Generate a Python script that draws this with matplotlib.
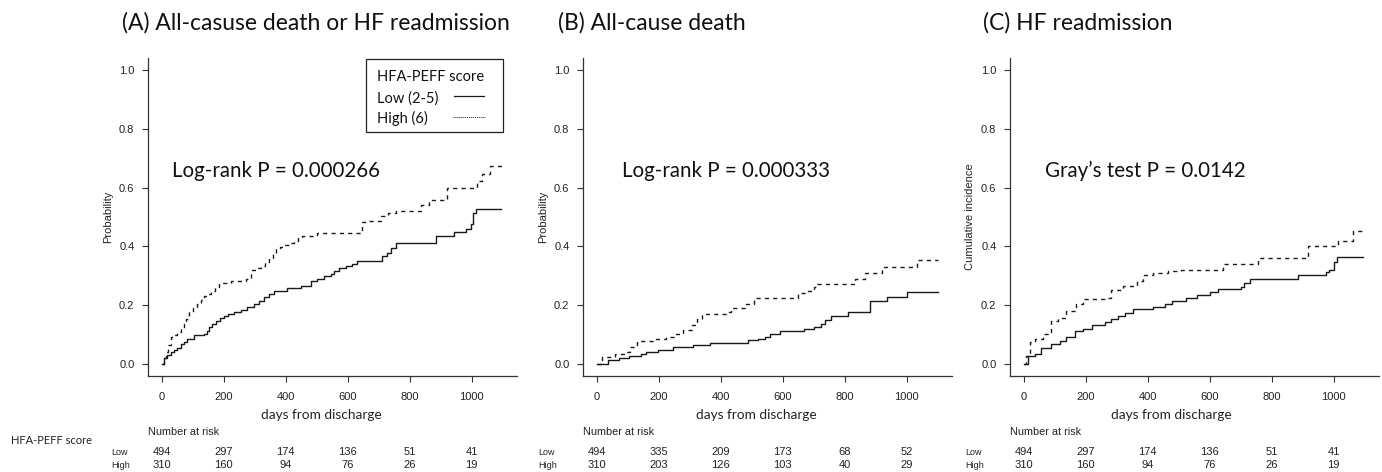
import matplotlib
matplotlib.use("Agg")
import matplotlib.pyplot as plt
from matplotlib.patches import Rectangle

# step curves (time in days, cumulative probability)
a_low_t = [0, 8, 18, 30, 40, 50, 61, 72, 83, 104, 137, 145, 153, 163, 174, 188, 201, 215, 233, 255, 276, 298, 315,
           330, 345, 362, 405, 448, 481, 500, 524, 545, 556, 572, 593, 615, 631, 712, 728, 739, 755, 884, 943, 981,
           997, 1005, 1015, 1096]
a_low_p = [0, .02, .03, .04, .047, .055, .067, .075, .086, .098, .103, .113, .126, .138, .148, .158, .165, .17, .176,
           .185, .193, .204, .215, .227, .238, .249, .258, .266, .283, .29, .30, .305, .315, .326, .334, .342, .349,
           .368, .379, .394, .413, .434, .449, .46, .475, .513, .527, .527]
a_high_t = [0, 6, 13, 21, 29, 40, 51, 62, 72, 80, 88, 100, 115, 126, 137, 148, 158, 172, 185, 223, 271, 287, 305,
            319, 333, 346, 358, 368, 382, 395, 410, 427, 441, 454, 502, 647, 668, 706, 730, 755, 835, 862, 919, 1018,
            1034, 1059, 1104]
a_high_p = [0, .02, .041, .065, .092, .1, .109, .122, .137, .155, .176, .19, .204, .218, .232, .24, .249, .263, .277,
            .283, .288, .319, .326, .333, .347, .361, .375, .39, .397, .404, .412, .42, .427, .434, .445, .483, .488,
            .502, .512, .522, .541, .558, .599, .622, .645, .673, .673]

b_low_t = [0, 38, 71, 104, 142, 159, 197, 246, 279, 312, 367, 487, 520, 542, 560, 591, 668, 700, 722, 735, 755, 810,
           880, 935, 1002, 1100]
b_low_p = [0, .014, .02, .028, .035, .043, .05, .057, .059, .065, .073, .082, .086, .093, .104, .112, .121, .127,
           .138, .149, .164, .176, .214, .23, .245, .245]
b_high_t = [0, 16, 60, 93, 109, 131, 181, 224, 252, 279, 307, 323, 340, 416, 432, 477, 509, 648, 676, 701, 711, 834,
            866, 920, 1033, 1100]
b_high_p = [0, .024, .035, .043, .059, .08, .084, .091, .104, .116, .132, .152, .172, .177, .192, .203, .224, .243,
            .248, .262, .271, .29, .31, .331, .355, .355]

c_low_t = [0, 14, 36, 57, 89, 116, 138, 165, 192, 219, 262, 283, 305, 326, 353, 418, 455, 477, 525, 558, 600, 626,
           702, 712, 729, 885, 976, 985, 1000, 1009, 1093]
c_low_p = [0, .029, .035, .054, .069, .08, .093, .114, .121, .134, .142, .153, .164, .173, .189, .194, .206, .215,
           .224, .234, .245, .254, .262, .276, .29, .304, .314, .32, .347, .363, .363]
c_high_t = [0, 9, 19, 36, 63, 89, 111, 138, 170, 192, 272, 283, 321, 364, 385, 418, 466, 509, 643, 756, 917, 1014,
            1062, 1100]
c_high_p = [0, .029, .074, .086, .102, .147, .158, .181, .204, .22, .226, .251, .265, .282, .302, .31, .316, .321,
            .342, .361, .402, .42, .451, .451]

# number at risk table
risk_times = [0, 200, 400, 600, 800, 1000]
a_risk_low = [494, 297, 174, 136, 51, 41]
a_risk_high = [310, 160, 94, 76, 26, 19]
b_risk_low = [494, 335, 209, 173, 68, 52]
b_risk_high = [310, 203, 126, 103, 40, 29]
c_risk_low = [494, 297, 174, 136, 51, 41]
c_risk_high = [310, 160, 94, 76, 26, 19]

titles = ["(A) All-casuse death or HF readmission", "(B) All-cause death", "(C) HF readmission"]
test_texts = ["Log-rank P = 0.000266", "Log-rank P = 0.000333", "Gray\u2019s test P = 0.0142"]
y_labels = ["Probability", "Probability", "Cumulative incidence"]
group_labels = ["Low (2-5)", "High (6)"]

W, H = 1382, 472
plt.rcParams['font.family'] = ['Liberation Sans', 'DejaVu Sans']
TITLE_FONT = ['Lato', 'DejaVu Sans']
INK = '#1a1a1a'
AX_INK = '#333333'

fig = plt.figure(figsize=(W / 100, H / 100), dpi=100)

# pixel layout of the three panels
ax_left = [148, 583, 1010]
ax_top, ax_bottom, ax_w = 58, 376, 369
title_x = [122, 558, 983]
xlabel_x = [0.47, 0.47, 0.436]
test_x = [0.065, 0.106, 0.095]
row_lab_x = [-0.10, -0.12, -0.12]

panels = [
    (a_low_t, a_low_p, a_high_t, a_high_p, a_risk_low, a_risk_high),
    (b_low_t, b_low_p, b_high_t, b_high_p, b_risk_low, b_risk_high),
    (c_low_t, c_low_p, c_high_t, c_high_p, c_risk_low, c_risk_high),
]

for i, (lt, lp, ht, hp, rl, rh) in enumerate(panels):
    ax = fig.add_axes([ax_left[i] / W, (H - ax_bottom) / H, ax_w / W, (ax_bottom - ax_top) / H])
    ax.step(lt, lp, where='post', color=INK, lw=1.0)
    ax.step(ht, hp, where='post', color=INK, lw=1.0, linestyle=(0, (3, 3)))

    ax.set_xlim(-44, 1146)
    ax.set_ylim(-0.04, 1.04)
    ax.set_xticks(risk_times)
    ax.set_yticks([0, 0.2, 0.4, 0.6, 0.8, 1.0])
    ax.set_yticklabels(["%.1f" % v for v in [0, 0.2, 0.4, 0.6, 0.8, 1.0]])
    for s in ['top', 'right']:
        ax.spines[s].set_visible(False)
    for s in ['left', 'bottom']:
        ax.spines[s].set_color(AX_INK)
        ax.spines[s].set_linewidth(0.9)
    ax.tick_params(axis='both', direction='out', length=4.3, width=0.8, colors=AX_INK, labelsize=8,
                   labelcolor='#222222')
    ax.tick_params(axis='x', pad=7)
    ax.tick_params(axis='y', pad=5.5)

    ax.set_ylabel(y_labels[i], fontsize=8, color='#222222')
    ax.yaxis.set_label_coords(-0.095, 0.5)
    ax.set_xlabel("days from discharge", fontsize=9.8, family=TITLE_FONT, color='#222222')
    ax.xaxis.set_label_coords(xlabel_x[i], -0.105)

    ax.text(test_x[i], 0.645, test_texts[i], transform=ax.transAxes, fontsize=14.8, family=TITLE_FONT,
            va='center', ha='left', color='#111111')

    # number at risk
    tr = ax.get_xaxis_transform()
    ax.text(0, -0.176, "Number at risk", transform=ax.transAxes, fontsize=7.8, va='center', ha='left',
            color='#222222')
    ax.text(row_lab_x[i], -0.239, "Low", transform=ax.transAxes, fontsize=6.5, va='center', ha='left',
            color='#222222')
    ax.text(row_lab_x[i], -0.280, "High", transform=ax.transAxes, fontsize=6.5, va='center', ha='left',
            color='#222222')
    for t, nl, nh in zip(risk_times, rl, rh):
        ax.text(t, -0.239, str(nl), transform=tr, fontsize=8, ha='center', va='center', color='#222222')
        ax.text(t, -0.280, str(nh), transform=tr, fontsize=8, ha='center', va='center', color='#222222')

    fig.text(title_x[i] / W, 1 - 23 / H, titles[i], fontsize=16.5, family=TITLE_FONT, ha='left', va='center',
             color='#111111')

    if i == 0:
        # legend box drawn by hand: labels left, line samples right
        ax.add_patch(Rectangle((0.591, 0.767), 0.371, 0.230, transform=ax.transAxes, fill=False,
                               edgecolor='#222222', lw=0.9))
        ax.text(0.621, 0.928, "HFA-PEFF score", transform=ax.transAxes, fontsize=10.5, family=TITLE_FONT,
                va='baseline', ha='left', color='#111111')
        ax.text(0.621, 0.858, group_labels[0], transform=ax.transAxes, fontsize=10.5, family=TITLE_FONT,
                va='baseline', ha='left', color='#111111')
        ax.text(0.621, 0.796, group_labels[1], transform=ax.transAxes, fontsize=10.5, family=TITLE_FONT,
                va='baseline', ha='left', color='#111111')
        ax.plot([0.830, 0.911], [0.880, 0.880], transform=ax.transAxes, color=INK, lw=0.9)
        ax.plot([0.827, 0.914], [0.814, 0.814], transform=ax.transAxes, color=INK, lw=0.7,
                linestyle=(0, (1, 1)))

fig.text(11 / W, 1 - 440 / H, "HFA-PEFF score", fontsize=8, family=TITLE_FONT, ha='left', va='center',
         color='#222222')

fig.savefig("out.png", dpi=100)
